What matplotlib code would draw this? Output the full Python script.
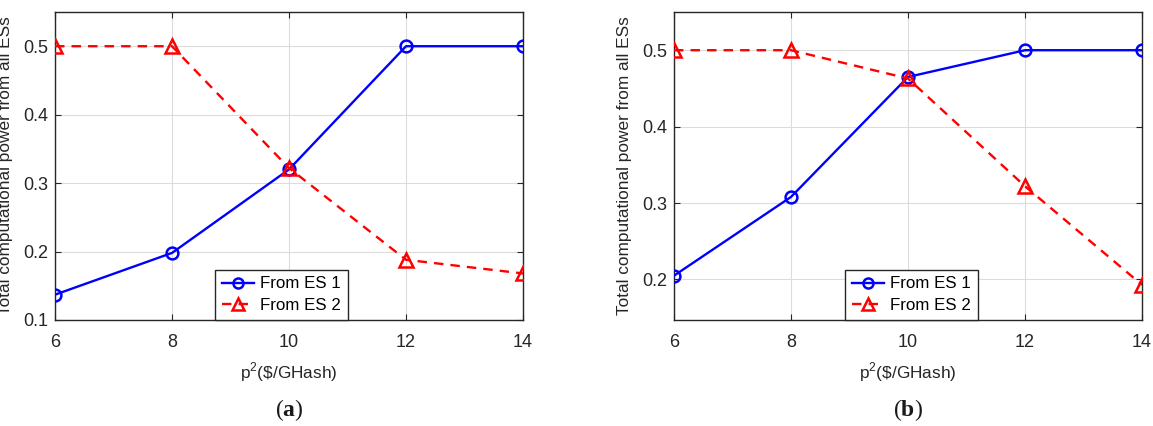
import matplotlib
matplotlib.use("Agg")
import matplotlib.pyplot as plt

x_price = [6, 8, 10, 12, 14]
a_es1 = [0.137, 0.198, 0.320, 0.500, 0.500]
a_es2 = [0.500, 0.500, 0.322, 0.188, 0.168]
b_es1 = [0.205, 0.308, 0.465, 0.500, 0.500]
b_es2 = [0.500, 0.500, 0.463, 0.322, 0.193]
x_ticks = [6, 8, 10, 12, 14]
a_yticks = [0.1, 0.2, 0.3, 0.4, 0.5]
b_yticks = [0.2, 0.3, 0.4, 0.5]
legend_labels = ["From ES 1", "From ES 2"]
ylabel = "Total computational power from all ESs"
xlabel = r"p$^2$(\$/GHash)"
panel_labels = ["a", "b"]

plt.rcParams['font.family'] = ['Liberation Sans', 'DejaVu Sans']
plt.rcParams['mathtext.fontset'] = 'custom'
plt.rcParams['mathtext.rm'] = 'Liberation Sans'
plt.rcParams['mathtext.bf'] = 'Liberation Serif:bold'

W, H = 1153, 426
fig = plt.figure(figsize=(W / 100, H / 100), dpi=100)

axc = '#262626'
AX_B, AX_H, AX_W = 320, 308, 468
panels = [
    (55, a_es1, a_es2, a_yticks, (0.1, 0.55), 0.484, panel_labels[0]),
    (674, b_es1, b_es2, b_yticks, (0.147, 0.55), 0.507, panel_labels[1]),
]
for left, s1, s2, yt, ylim, legx, plab in panels:
    ax = fig.add_axes([left / W, (H - AX_B) / H, AX_W / W, AX_H / H])
    ax.plot(x_price, s1, '-', color='#0000ff', lw=1.7, marker='o', ms=8.5,
            mfc='none', mew=1.8, label=legend_labels[0], zorder=3)
    ax.plot(x_price, s2, '--', color='#ff0000', lw=1.7, marker='^', ms=10.5,
            mfc='none', mew=1.8, label=legend_labels[1], dashes=(4, 3), zorder=3)
    ax.set_xlim(6, 14)
    ax.set_ylim(*ylim)
    ax.set_xticks(x_ticks)
    ax.set_yticks(yt)
    ax.set_yticklabels([f"{v:.1f}" for v in yt])
    ax.grid(True, color='#dcdcdc', lw=0.8)
    ax.set_axisbelow(True)
    for sp in ax.spines.values():
        sp.set_color(axc)
        sp.set_linewidth(1.0)
    ax.tick_params(direction='in', top=True, right=True, length=4, color=axc,
                   labelsize=13, labelcolor=axc)
    ax.tick_params(axis='x', pad=10)
    ax.tick_params(axis='y', pad=5)
    ax.set_ylabel(ylabel, fontsize=12.4, color=axc, ha='center', va='center')
    ax.yaxis.set_label_coords(-49 / AX_W, 0.5)
    ax.set_xlabel(xlabel, fontsize=12.4, color=axc, ha='center', va='center')
    ax.xaxis.set_label_coords(0.5, -(372 - AX_B) / AX_H)
    leg = ax.legend(loc='lower center', bbox_to_anchor=(legx, 0.0),
                    borderaxespad=0, fontsize=12.2, fancybox=False,
                    framealpha=1, edgecolor=axc, handlelength=1.9,
                    handletextpad=0.35, borderpad=0.4, labelspacing=0.4,
                    markerscale=0.85)
    leg.get_frame().set_linewidth(1.0)
    cx = (left + AX_W / 2) / W
    fig.text(cx, 1 - 410 / H, r"($\mathbf{" + plab + r"}$)", ha='center', va='center',
             fontsize=17, family='Liberation Serif', color='#1a1a1a')

fig.savefig("out.png", dpi=100)
